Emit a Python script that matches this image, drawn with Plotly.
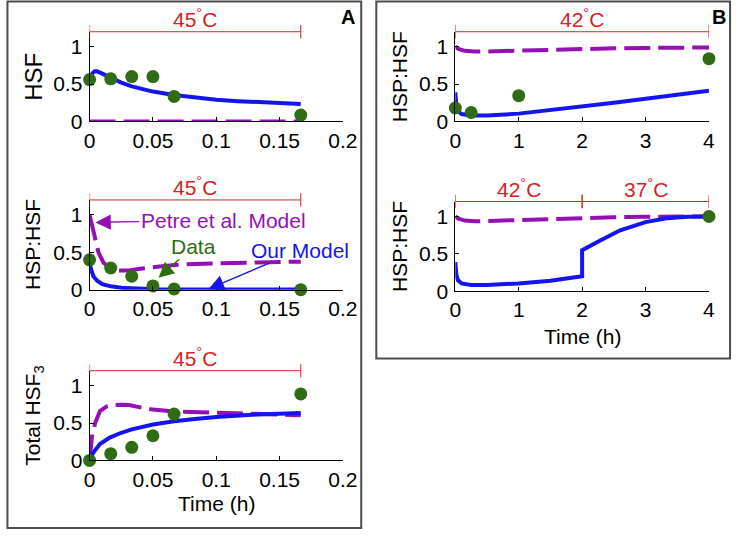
import plotly.graph_objects as go

# ---------------- data ----------------
# Panel A (45 C), time in hours
t_data_A = [0, 0.0167, 0.0333, 0.05, 0.0667, 0.1667]
hsf_data = [0.56, 0.57, 0.60, 0.60, 0.335, 0.085]
hsphsf_data_A = [0.40, 0.29, 0.18, 0.05, 0.01, 0.0]
total_hsf3_data = [0.0, 0.09, 0.175, 0.33, 0.62, 0.89]

t_hsf_model = [0, 0.002, 0.004, 0.006, 0.01, 0.0167, 0.025, 0.0333, 0.042, 0.05,
               0.0667, 0.083, 0.1, 0.117, 0.133, 0.15, 0.1667]
hsf_our = [0.57, 0.64, 0.67, 0.67, 0.64, 0.58, 0.52, 0.47, 0.43, 0.40,
           0.355, 0.32, 0.29, 0.272, 0.257, 0.245, 0.235]
hsf_petre = [0, 0, 0, 0, 0, 0, 0, 0, 0, 0, 0, 0, 0, 0, 0, 0, 0]

t_hsphsf_petre_A = [0, 0.002, 0.004, 0.007, 0.011, 0.0167, 0.022, 0.03, 0.04, 0.05,
                    0.0667, 0.083, 0.1, 0.133, 0.1667]
hsphsf_petre_A = [1.0, 0.85, 0.68, 0.5, 0.36, 0.28, 0.255, 0.255, 0.28, 0.30,
                  0.33, 0.345, 0.355, 0.365, 0.375]
t_hsphsf_our_A = [0, 0.001, 0.003, 0.006, 0.01, 0.0167, 0.025, 0.0333, 0.05, 0.0667,
                  0.1, 0.133, 0.1667]
hsphsf_our_A = [0.38, 0.28, 0.18, 0.12, 0.075, 0.045, 0.025, 0.015, 0.007, 0.004,
                0.002, 0.001, 0.001]

t_total_petre = [0, 0.0018, 0.0044, 0.0082, 0.0133, 0.0185, 0.025, 0.031, 0.04, 0.05,
                 0.0667, 0.083, 0.1, 0.133, 0.1667]
total_petre = [0, 0.31, 0.5, 0.66, 0.72, 0.74, 0.745, 0.74, 0.71, 0.68,
               0.655, 0.645, 0.635, 0.62, 0.605]
t_total_our = [0, 0.0031, 0.0082, 0.0159, 0.025, 0.0333, 0.05, 0.0667, 0.083, 0.1,
               0.133, 0.1667]
total_our = [0, 0.11, 0.22, 0.305, 0.37, 0.415, 0.48, 0.525, 0.555, 0.58,
             0.615, 0.635]

# Panel B, time in hours
t_data_B1 = [0, 0.25, 1, 4]
hsphsf_data_B1 = [0.18, 0.12, 0.345, 0.84]
t_petre_B = [0, 0.05, 0.15, 0.3, 0.5, 1, 1.5, 2, 2.5, 3, 3.5, 4]
hsphsf_petre_B1 = [1.0, 0.97, 0.945, 0.935, 0.937, 0.95, 0.963, 0.972, 0.978, 0.983, 0.987, 0.99]
t_our_B1 = [0, 0.015, 0.04, 0.1, 0.25, 0.5, 1, 1.5, 2, 2.5, 3, 3.5, 4]
hsphsf_our_B1 = [0.39, 0.23, 0.14, 0.1, 0.08, 0.08, 0.105, 0.15, 0.2, 0.25, 0.305, 0.355, 0.41]

t_data_B2 = [4]
hsphsf_data_B2 = [1.0]
hsphsf_petre_B2 = [1.0, 0.97, 0.945, 0.935, 0.94, 0.955, 0.97, 0.98, 0.99, 0.995, 0.998, 1.0]
t_our_B2 = [0, 0.015, 0.04, 0.1, 0.25, 0.5, 1, 1.5, 2, 2, 2.3, 2.6, 3, 3.33, 3.67, 4]
hsphsf_our_B2 = [0.39, 0.23, 0.15, 0.105, 0.085, 0.083, 0.105, 0.14, 0.2, 0.55,
                 0.685, 0.815, 0.925, 0.975, 0.995, 1.0]

xticks_A = [0, 0.05, 0.1, 0.15, 0.2]
xticklabels_A = ["0", "0.05", "0.1", "0.15", "0.2"]
xticks_B = [0, 1, 2, 3, 4]
xticklabels_B = ["0", "1", "2", "3", "4"]
yticks = [0, 0.5, 1]
yticklabels = ["0", "0.5", "1"]

# ---------------- style ----------------
W, H = 747, 541
FONT = "Liberation Sans, Arial, Helvetica, sans-serif"
FS = 21
GREEN = "#2f6c14"
BLUE = "#1414f0"
PURPLE = "#9410b4"
RED = "#d62222"


def px_x(p):
    return p / W


def px_y(p):
    return 1 - p / H


AX_A = [px_x(86), px_x(346.7)]
AX_B = [px_x(462.3), px_x(723.3)]
panels = {
    1: (AX_A, [px_y(124), px_y(32.4)]),
    2: (AX_A, [px_y(295.7), px_y(204.1)]),
    3: (AX_A, [px_y(470), px_y(378.4)]),
    4: (AX_B, [px_y(124), px_y(32.4)]),
    5: (AX_B, [px_y(297.3), px_y(205.7)]),
}

fig = go.Figure()


def axname(i, a):
    return a if i == 1 else f"{a}{i}"


def add_set(i, tp, yp, to, yo, td, yd):
    xa, ya = axname(i, "x"), axname(i, "y")
    fig.add_trace(go.Scatter(x=tp, y=yp, mode="lines", xaxis=xa, yaxis=ya,
                             line=dict(color=PURPLE, width=4, dash="26px,8px"),
                             cliponaxis=False, showlegend=False))
    fig.add_trace(go.Scatter(x=to, y=yo, mode="lines", xaxis=xa, yaxis=ya,
                             line=dict(color=BLUE, width=4),
                             cliponaxis=False, showlegend=False))
    fig.add_trace(go.Scatter(x=td, y=yd, mode="markers", xaxis=xa, yaxis=ya,
                             marker=dict(color=GREEN, size=13),
                             cliponaxis=False, showlegend=False))


add_set(1, t_hsf_model, hsf_petre, t_hsf_model, hsf_our, t_data_A, hsf_data)
add_set(2, t_hsphsf_petre_A, hsphsf_petre_A, t_hsphsf_our_A, hsphsf_our_A, t_data_A, hsphsf_data_A)
add_set(3, t_total_petre, total_petre, t_total_our, total_our, t_data_A, total_hsf3_data)
add_set(4, t_petre_B, hsphsf_petre_B1, t_our_B1, hsphsf_our_B1, t_data_B1, hsphsf_data_B1)
add_set(5, t_petre_B, hsphsf_petre_B2, t_our_B2, hsphsf_our_B2, t_data_B2, hsphsf_data_B2)

layout = dict(width=W, height=H, margin=dict(l=0, r=0, t=0, b=0),
              paper_bgcolor="white", plot_bgcolor="rgba(0,0,0,0)",
              font=dict(family=FONT, size=FS, color="black"), showlegend=False)

for i, (xd, yd) in panels.items():
    isA = i <= 3
    layout[("xaxis" if i == 1 else f"xaxis{i}")] = dict(
        domain=xd, anchor=axname(i, "y"),
        range=[0, 0.2] if isA else [0, 4],
        tickvals=xticks_A if isA else xticks_B,
        ticktext=xticklabels_A if isA else xticklabels_B,
        showline=True, linecolor="black", linewidth=1, ticks="inside", ticklen=4,
        tickcolor="black", showgrid=False, zeroline=False,
        tickfont=dict(family=FONT, size=FS, color="black"), ticklabelstandoff=0)
    layout[("yaxis" if i == 1 else f"yaxis{i}")] = dict(
        domain=yd, anchor=axname(i, "x"), range=[0, 1.2],
        tickvals=yticks, ticktext=yticklabels,
        showline=True, linecolor="black", linewidth=1, ticks="inside", ticklen=4,
        tickcolor="black", showgrid=False, zeroline=False,
        tickfont=dict(family=FONT, size=FS, color="black"), ticklabelstandoff=2)

fig.update_layout(**layout)

shapes = []
annotations = []

# temperature brackets
brackets = [
    (1, [(0, 0.1667, "45<sup>°</sup>C")]),
    (2, [(0, 0.1667, "45<sup>°</sup>C")]),
    (3, [(0, 0.1667, "45<sup>°</sup>C")]),
    (4, [(0, 4, "42<sup>°</sup>C")]),
    (5, [(0, 2, "42<sup>°</sup>C"), (2, 4, "37<sup>°</sup>C")]),
]
for i, segs in brackets:
    xr = axname(i, "x")
    yr = axname(i, "y") + " domain"
    for (a, b, lab) in segs:
        shapes.append(dict(type="line", xref=xr, yref=yr, x0=a, x1=b, y0=1, y1=1,
                           line=dict(color=RED, width=1)))
        for e in (a, b):
            shapes.append(dict(type="line", xref=xr, yref=yr, x0=e, x1=e,
                               y0=0.925, y1=1.075, line=dict(color=RED, width=1)))
        annotations.append(dict(xref=xr, yref=yr, x=(a + b) / 2, y=1.0, yanchor="bottom",
                                yshift=-1, text=lab, showarrow=False,
                                font=dict(color=RED, size=FS, family=FONT)))

# y-axis labels
ylabels = [(1, "HSF", 28, 24), (2, "HSP:HSF", 28, FS), (3, "Total HSF<sub>3</sub>", 28, FS),
           (4, "HSP:HSF", 405, FS), (5, "HSP:HSF", 405, FS)]
for i, lab, xp, fs in ylabels:
    yd = panels[i][1]
    annotations.append(dict(xref="paper", yref="paper", x=px_x(xp), y=(yd[0] + yd[1]) / 2,
                            text=lab, textangle=-90, showarrow=False,
                            xanchor="center", yanchor="middle",
                            font=dict(size=fs, family=FONT, color="black")))

# x-axis labels
annotations.append(dict(xref="paper", yref="paper", x=(AX_A[0] + AX_A[1]) / 2, y=px_y(514),
                        text="Time (h)", showarrow=False, xanchor="center", yanchor="middle",
                        font=dict(size=FS, family=FONT, color="black")))
annotations.append(dict(xref="paper", yref="paper", x=(AX_B[0] + AX_B[1]) / 2, y=px_y(343),
                        text="Time (h)", showarrow=False, xanchor="center", yanchor="middle",
                        font=dict(size=FS, family=FONT, color="black")))

# panel letters
annotations.append(dict(xref="paper", yref="paper", x=px_x(352), y=px_y(17), text="<b>A</b>",
                        showarrow=False, xanchor="center", yanchor="middle",
                        font=dict(size=20, family=FONT, color="black")))
annotations.append(dict(xref="paper", yref="paper", x=px_x(734), y=px_y(17), text="<b>B</b>",
                        showarrow=False, xanchor="center", yanchor="middle",
                        font=dict(size=20, family=FONT, color="black")))

# model labels with arrows (panel A middle): text centre (tail) and arrow tip
labels2 = [
    ("Petre et al. Model", PURPLE, 0.1054, 0.93, 0.0046, 0.90),
    ("Data", GREEN, 0.0823, 0.58, 0.0544, 0.16),
    ("Our Model", BLUE, 0.166, 0.53, 0.094, 0.01),
]
for text, col, tx, ty, hx, hy in labels2:
    annotations.append(dict(xref="x2", yref="y2", x=hx, y=hy, axref="x2", ayref="y2",
                            ax=tx, ay=ty, text=text, showarrow=True, arrowhead=2,
                            arrowsize=2.2, arrowwidth=1.4, arrowcolor=col,
                            font=dict(size=FS, family=FONT, color=col)))

# panel frames
shapes.append(dict(type="rect", xref="paper", yref="paper", x0=px_x(1.5), x1=px_x(365.5),
                   y0=px_y(539), y1=px_y(1.5), line=dict(color="#4d4d4d", width=2)))
shapes.append(dict(type="rect", xref="paper", yref="paper", x0=px_x(381), x1=px_x(745),
                   y0=px_y(366), y1=px_y(1.5), line=dict(color="#4d4d4d", width=2)))

fig.update_layout(shapes=shapes, annotations=annotations)

post = """
document.documentElement.style.margin='0';
document.body.style.margin='0';
document.body.style.overflow='hidden';
"""

fig.write_html("out.html", post_script=post, config={"displayModeBar": False})
